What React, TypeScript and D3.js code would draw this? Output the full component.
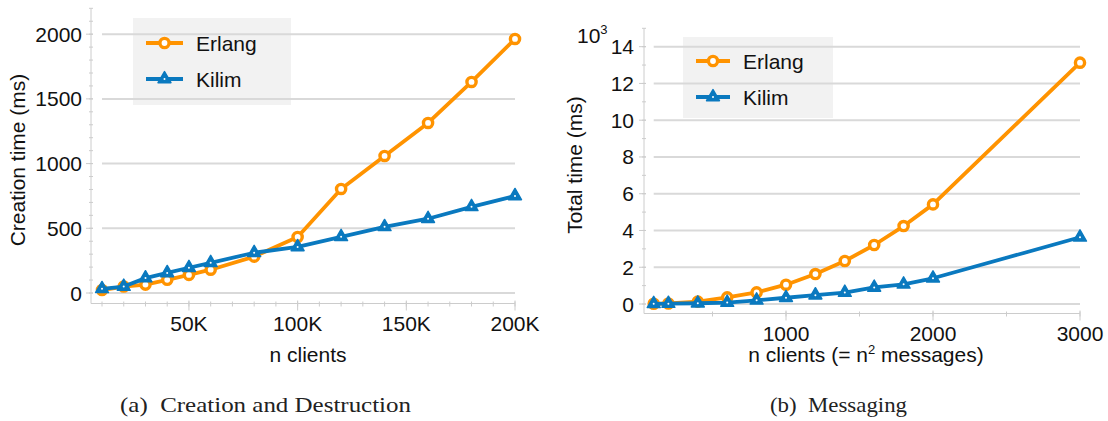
import React from "react";
import * as d3 from "d3";

// (a) creation and destruction
const clientsA = [10000, 20000, 30000, 40000, 50000, 60000, 80000, 100000, 120000, 140000, 160000, 180000, 200000];
const erlangA = [23, 50, 65, 102, 140, 180, 281, 433, 804, 1059, 1314, 1631, 1963];
const kilimA = [32, 50, 115, 155, 195, 233, 311, 356, 434, 511, 574, 666, 750];
const yTicksA = [0, 500, 1000, 1500, 2000];
const xTicksA = [50000, 100000, 150000, 200000];

// (b) messaging, values in 10^3 ms
const clientsB = [100, 200, 400, 600, 800, 1000, 1200, 1400, 1600, 1800, 2000, 3000];
const erlangB = [0.01, 0.03, 0.13, 0.36, 0.63, 1.05, 1.63, 2.34, 3.21, 4.24, 5.42, 13.13];
const kilimB = [0.01, 0.02, 0.04, 0.08, 0.2, 0.34, 0.48, 0.62, 0.9, 1.07, 1.4, 3.63];
const yTicksB = [0, 2, 4, 6, 8, 10, 12, 14];
const xTicksB = [1000, 2000, 3000];

const series = ["Erlang", "Kilim"];
const ORANGE = "#ff9300";
const BLUE = "#0a79bf";
const FONT = "'Liberation Sans', Arial, Helvetica, sans-serif";
const GRID = "#d9d9d9";
const AXIS = "#cccccc";
const FS = 21;

const tri = d3.symbol().type(d3.symbolTriangle).size(72)();

const Marker = ({ kind, x, y }) =>
    kind === 0 ? (
        <circle cx={x} cy={y} r={4.6} fill="#fff" stroke={ORANGE} strokeWidth={3.4} />
    ) : (
        <g transform={`translate(${x},${y})`}>
            <path d={tri} fill={BLUE} stroke={BLUE} strokeWidth={1.5} strokeLinejoin="round" />
            <circle r={1} fill="#fff" />
        </g>
    );

const Panel = (p) => {
    const x = d3.scaleLinear().domain(p.xDomain).range(p.xRange);
    const y = d3.scaleLinear().domain(p.yDomain).range(p.yRange);
    const line = d3.line().x(d => x(d[0])).y(d => y(d[1]));
    const x0 = p.yAxisX;
    const y0 = p.xAxisY;
    const [gl, gr] = p.xRange;
    const lg = p.legend;

    return (
        <g fontFamily={FONT}>
            {/* legend background sits under the grid */}
            <rect x={lg.x} y={lg.y} width={lg.w} height={lg.h} fill="#f2f2f2" />

            {p.yTicks.map(t => (
                <line key={"g" + t} x1={gl} x2={gr} y1={y(t)} y2={y(t)} stroke={GRID} strokeWidth={2} />
            ))}

            {/* y axis */}
            <line x1={x0} x2={x0} y1={y(p.yDomain[1])} y2={y0} stroke={AXIS} strokeWidth={1} />
            {p.yMinor.map(t => (
                <line key={"ym" + t} x1={x0 - 2} x2={x0 + 2} y1={y(t)} y2={y(t)} stroke={AXIS} />
            ))}
            {p.yTicks.map(t => (
                <g key={"yt" + t}>
                    <line x1={x0 - 5} x2={x0 + 2} y1={y(t)} y2={y(t)} stroke={AXIS} />
                    <text x={p.yLabelRight} y={y(t) + 7.5} textAnchor="end" fontSize={FS} fill="#111">{t}</text>
                </g>
            ))}

            {/* x axis */}
            <line x1={x0} x2={gr} y1={y0} y2={y0} stroke={AXIS} strokeWidth={1} />
            {p.xMinor.map(t => (
                <line key={"xm" + t} x1={x(t)} x2={x(t)} y1={y0 - 2} y2={y0 + 3} stroke={AXIS} />
            ))}
            {p.xTicks.map(t => (
                <g key={"xt" + t}>
                    <line x1={x(t)} x2={x(t)} y1={y0 - 3} y2={y0 + 7} stroke={AXIS} />
                    <text x={x(t)} y={y0 + 27} textAnchor="middle" fontSize={FS} fill="#111">{p.xFormat(t)}</text>
                </g>
            ))}

            {p.data.map((vals, si) => {
                const pts = p.xs.map((v, i) => [v, vals[i]]);
                const col = si === 0 ? ORANGE : BLUE;
                return (
                    <g key={"s" + si}>
                        <path d={line(pts)} fill="none" stroke={col} strokeWidth={3.8} strokeLinejoin="round" />
                        {pts.map((d, i) => <Marker key={i} kind={si} x={x(d[0])} y={y(d[1])} />)}
                    </g>
                );
            })}

            {series.map((s, i) => {
                const ly = lg.y + lg.rowY[i];
                return (
                    <g key={s}>
                        <line x1={lg.lx1} x2={lg.lx2} y1={ly} y2={ly} stroke={i === 0 ? ORANGE : BLUE} strokeWidth={3.8} />
                        <Marker kind={i} x={(lg.lx1 + lg.lx2) / 2} y={ly} />
                        <text x={lg.tx} y={ly + 7.5} fontSize={FS} fill="#111">{s}</text>
                    </g>
                );
            })}

            <text transform={`translate(${p.yTitle[0]},${p.yTitle[1]}) rotate(-90)`} textAnchor="middle"
                  fontSize={FS} fill="#111">{p.yTitleText}</text>
            <text x={p.xTitle[0]} y={p.xTitle[1]} textAnchor="middle" fontSize={FS} fill="#111">{p.xTitleText}</text>
        </g>
    );
};

const App = () => {
    return (
        <div style={{ position: "absolute", left: 0, top: 0 }}>
            <svg width={1108} height={421} style={{ display: "block", background: "#fff" }}>
                <Panel
                    xs={clientsA}
                    data={[erlangA, kilimA]}
                    xDomain={[10000, 200000]} xRange={[102, 515]}
                    yDomain={[0, 2200]} yRange={[293, 8.3]}
                    yAxisX={91} xAxisY={303.5}
                    yTicks={yTicksA} yMinor={d3.range(0, 2201, 100)}
                    xTicks={xTicksA} xMinor={d3.range(10000, 200001, 10000)}
                    xFormat={t => t / 1000 + "K"}
                    yLabelRight={82}
                    legend={{ x: 133, y: 18, w: 158, h: 87, rowY: [25, 61], lx1: 146, lx2: 183, tx: 196 }}
                    yTitle={[25, 160]} yTitleText="Creation time (ms)"
                    xTitle={[308, 362]} xTitleText="n clients"
                />
                <Panel
                    xs={clientsB}
                    data={[erlangB, kilimB]}
                    xDomain={[100, 3000]} xRange={[653.7, 1080]}
                    yDomain={[0, 15]} yRange={[304, 28.3]}
                    yAxisX={644} xAxisY={313.5}
                    yTicks={yTicksB} yMinor={d3.range(0, 16, 1)}
                    xTicks={xTicksB} xMinor={d3.range(500, 3001, 500)}
                    xFormat={t => String(t)}
                    yLabelRight={634}
                    legend={{ x: 683, y: 37, w: 150, h: 81, rowY: [24, 60], lx1: 696, lx2: 730, tx: 743 }}
                    yTitle={[582, 165]} yTitleText="Total time (ms)"
                    xTitle={[866, 362]}
                    xTitleText={<>n clients (= n<tspan fontSize={13} dy={-8}>2</tspan><tspan dy={8}> messages)</tspan></>}
                />
                <text x={577} y={43} fontFamily={FONT} fontSize={FS} fill="#111">
                    10<tspan fontSize={13} dy={-9}>3</tspan>
                </text>

                <g fontFamily="'Liberation Serif', 'DejaVu Serif', serif" fontSize={21} fill="#222">
                    <text x={265.5} y={412} textAnchor="middle" textLength={291} lengthAdjust="spacingAndGlyphs">
                        (a)&#160; Creation and Destruction
                    </text>
                    <text x={838.5} y={412} textAnchor="middle" textLength={137} lengthAdjust="spacingAndGlyphs">
                        (b)&#160; Messaging
                    </text>
                </g>
            </svg>
        </div>
    );
};

export default App;
